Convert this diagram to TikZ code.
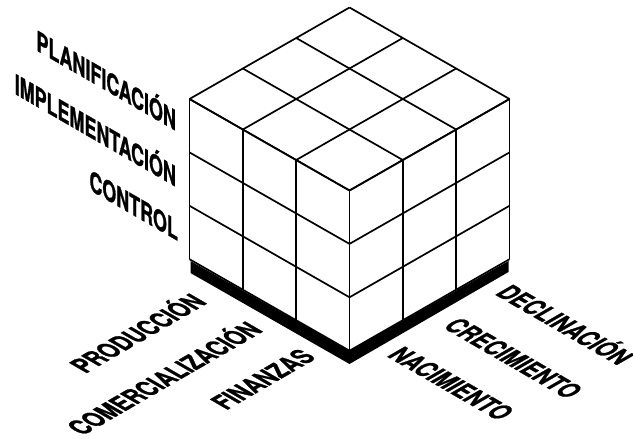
\documentclass[tikz,border=0pt]{standalone}
\usepackage{fontspec}
\setmainfont{TeX Gyre Heros}[BoldFeatures={FakeBold=1.2}]

\begin{document}
\begin{tikzpicture}[x=1pt, y=-1pt, line join=round,
    cubeline/.style={line width=1.7pt},
    lbl/.style={font=\fontsize{28}{28}\selectfont\bfseries, inner sep=0pt},
    wall/.style={lbl, cm={0.64,-0.37,0,1,(0,0)}, anchor=base east},
    floorleft/.style={lbl, cm={0.64,0.37,-0.866,0.5,(0,0)}, anchor=base east},
    floorright/.style={lbl, cm={0.64,-0.37,0.866,0.5,(0,0)}, anchor=base west}]
  \useasboundingbox (0,0) rectangle (633,439);
  % shadow under the base
  \fill (190.5,261) -- (349.5,351) -- (508.5,261) -- (508.5,272)
    -- (349.5,364) -- (190.5,273) -- cycle;
  % the 3x3x3 cube
  \begin{scope}[shift={(349.5,190.5)}, x={(-53.33pt,30.5pt)}, y={(53.33pt,30.5pt)}, z={(0pt,-53.4pt)}]
    \fill[white] (3,0,3) -- (3,0,0) -- (3,3,0) -- (0,3,0) -- (0,3,3) -- (0,0,3) -- cycle;
    \foreach \k in {0,...,3} {
      \draw[cubeline] (\k,0,0) -- (\k,3,0);
      \draw[cubeline] (0,\k,0) -- (3,\k,0);
      \draw[cubeline] (\k,0,0) -- (\k,0,3);
      \draw[cubeline] (0,0,\k) -- (3,0,\k);
      \draw[cubeline] (0,\k,0) -- (0,\k,3);
      \draw[cubeline] (0,0,\k) -- (0,3,\k);
    }
  \end{scope}
  % levels
  \node[wall] (plan) at (176,131) {PLANIFICACIÓN};
  \node[wall] (impl) at (176,187) {IMPLEMENTACIÓN};
  \node[wall] (ctrl) at (178,241) {CONTROL};
  % areas
  \node[floorleft] (prod) at (208,303) {PRODUCCIÓN};
  \node[floorleft] (comer) at (264,331) {COMERCIALIZACIÓN};
  \node[floorleft] (fin) at (317,358) {FINANZAS};
  % stages
  \node[floorright] (nac) at (386,356) {NACIMIENTO};
  \node[floorright] (crec) at (442,327) {CRECIMIENTO};
  \node[floorright] (decl) at (494,294) {DECLINACIÓN};
\end{tikzpicture}
\end{document}
